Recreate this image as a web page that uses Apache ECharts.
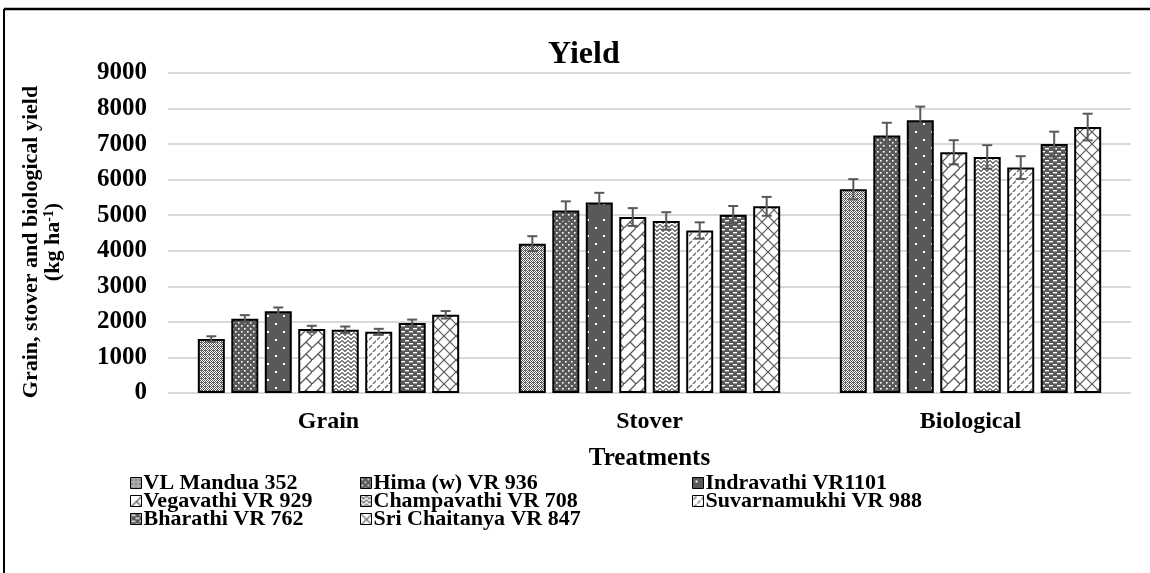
<!DOCTYPE html>
<html><head><meta charset="utf-8">
<script src="https://cdn.jsdelivr.net/npm/echarts@6/dist/echarts.min.js"></script>
<style>html,body{margin:0;padding:0;background:#fff}#c{width:1150px;height:573px}</style>
</head><body><div id="c"></div>
<script>
const categories = ['Grain', 'Stover', 'Biological'];
const varieties = ['VL Mandua 352', 'Hima (w) VR 936', 'Indravathi VR1101', 'Vegavathi VR 929', 'Champavathi VR 708', 'Suvarnamukhi VR 988', 'Bharathi VR 762', 'Sri Chaitanya VR 847'];
const grain = [1520, 2090, 2300, 1800, 1780, 1720, 1970, 2200];
const stover = [4200, 5130, 5360, 4950, 4840, 4570, 5010, 5250];
const biological = [5730, 7240, 7670, 6770, 6640, 6340, 7000, 7480];
const grainErr = [75, 100, 105, 90, 90, 85, 95, 105];
const stoverErr = [210, 260, 270, 250, 245, 230, 250, 265];
const biologicalErr = [285, 360, 385, 340, 330, 320, 350, 375];
const yTicks = [0, 1000, 2000, 3000, 4000, 5000, 6000, 7000, 8000, 9000];

const FONT = 'Liberation Serif';
const DARK = '#595959';
const BW = 27, GAP = 0.24;

function pat(w, h, bg, draw) {
  const cv = document.createElement('canvas');
  cv.width = w; cv.height = h;
  const g = cv.getContext('2d');
  g.fillStyle = bg; g.fillRect(0, 0, w, h);
  draw(g);
  return { image: cv, repeat: 'repeat' };
}
const patterns = [
  pat(4, 4, '#ffffff', g => { g.fillStyle = '#555'; for (let y = 0; y < 4; y++) for (let x = 0; x < 4; x++) if ((x + y) % 2 === 0) g.fillRect(x, y, 1, 1); g.fillStyle = '#777'; g.fillRect(1, 2, 1, 1); }),
  pat(6, 6, DARK, g => { g.fillStyle = '#fff'; g.fillRect(1, 1, 1.6, 1.6); g.fillRect(4, 4, 1.6, 1.6); }),
  pat(16, 16, DARK, g => { g.fillStyle = '#fff'; g.fillRect(3, 3, 2, 2); g.fillRect(11, 11, 2, 2); }),
  pat(12, 12, '#fff', g => { g.strokeStyle = DARK; g.lineWidth = 1.3; g.beginPath(); g.moveTo(-1, 13); g.lineTo(13, -1); g.moveTo(6, 6); g.lineTo(12, 12); g.stroke(); }),
  pat(6, 4, '#fff', g => { g.strokeStyle = DARK; g.lineWidth = 1.1; g.beginPath(); g.moveTo(0, 0.5); g.lineTo(3, 3.5); g.lineTo(6, 0.5); g.stroke(); }),
  pat(8, 8, '#fff', g => { g.strokeStyle = DARK; g.lineWidth = 1.1; g.beginPath(); g.moveTo(1, 4); g.lineTo(4, 1); g.moveTo(5, 8); g.lineTo(8, 5); g.stroke(); }),
  pat(8, 6, DARK, g => { g.fillStyle = '#fff'; g.fillRect(1, 1, 4, 1.4); g.fillRect(5, 4, 4, 1.4); g.fillRect(-3, 4, 4, 1.4); }),
  pat(12, 12, '#fff', g => { g.strokeStyle = DARK; g.lineWidth = 1.2; g.beginPath(); g.moveTo(-1, -1); g.lineTo(13, 13); g.moveTo(-1, 13); g.lineTo(13, -1); g.stroke(); })
];

const cols = [grain, stover, biological];
const errs = [grainErr, stoverErr, biologicalErr];

const barSeries = varieties.map((name, i) => ({
  name, type: 'bar', barWidth: BW, barGap: (GAP * 100) + '%',
  data: cols.map(c => c[i]),
  itemStyle: { color: patterns[i], borderColor: '#000', borderWidth: 2 },
  z: 2
}));

const errData = [];
varieties.forEach((n, i) => cols.forEach((c, k) => errData.push([k, c[i], errs[k][i], i])));

const errSeries = {
  type: 'custom', z: 5, silent: true,
  encode: { x: 0, y: 1 },
  data: errData,
  renderItem: (params, api) => {
    const cat = api.value(0), v = api.value(1), e = api.value(2), si = api.value(3);
    const n = varieties.length;
    const step = BW * (1 + GAP);
    const total = n * BW + (n - 1) * BW * GAP;
    const off = -total / 2 + BW / 2 + si * step;
    const hi = api.coord([cat, v + e]);
    const lo = api.coord([cat, v - e]);
    const x = hi[0] + off;
    const st = { stroke: '#595959', lineWidth: 2 };
    return { type: 'group', children: [
      { type: 'line', shape: { x1: x, y1: hi[1], x2: x, y2: lo[1] }, style: st },
      { type: 'line', shape: { x1: x - 5, y1: hi[1], x2: x + 5, y2: hi[1] }, style: st },
      { type: 'line', shape: { x1: x - 5, y1: lo[1], x2: x + 5, y2: lo[1] }, style: st }
    ]};
  }
};

const legendCols = [[0, 3, 6], [1, 4, 7], [2, 5]];
const legendLeft = [125, 355, 687];
const legends = legendCols.map((idx, j) => ({
  orient: 'vertical', left: legendLeft[j], top: 467, itemGap: -4,
  itemWidth: 11, itemHeight: 11, icon: 'rect',
  itemStyle: { borderColor: '#000', borderWidth: 1 },
  data: idx.map(i => varieties[i]),
  textStyle: { fontFamily: FONT, fontWeight: 'bold', fontSize: 22, color: '#000', lineHeight: 18, padding: [0, 0, 0, -3] },
  selectedMode: false
}));

const chart = echarts.init(document.getElementById('c'), null, { renderer: 'canvas' });
chart.setOption({
  animation: false,
  backgroundColor: '#fff',
  title: { text: 'Yield', left: 543, top: 34, textStyle: { fontFamily: FONT, fontWeight: 'bold', fontSize: 32, color: '#000' } },
  legend: legends,
  grid: { left: 168, right: 19, top: 73, bottom: 180 },
  xAxis: {
    type: 'category', data: categories,
    name: 'Treatments', nameLocation: 'middle', nameGap: 53,
    nameTextStyle: { fontFamily: FONT, fontWeight: 'bold', fontSize: 25, color: '#000' },
    axisLine: { show: false }, axisTick: { show: false },
    axisLabel: { fontFamily: FONT, fontWeight: 'bold', fontSize: 24, color: '#000', margin: 17 }
  },
  yAxis: {
    type: 'value', min: yTicks[0], max: yTicks[yTicks.length - 1], interval: 1000,
    name: '{a|Grain, stover and biological yield}\n{a|(kg ha}{s|-1}{a|)}',
    nameLocation: 'middle', nameGap: 104, nameRotate: 90,
    nameTextStyle: {
      padding: [0, 18, 0, 0],
      rich: {
        a: { fontFamily: FONT, fontWeight: 'bold', fontSize: 22, color: '#000', lineHeight: 22 },
        s: { fontFamily: FONT, fontWeight: 'bold', fontSize: 14, color: '#000', lineHeight: 22, verticalAlign: 'top', padding: [0, 0, 7, 0] }
      }
    },
    axisLine: { show: false }, axisTick: { show: false },
    axisLabel: { fontFamily: FONT, fontWeight: 'bold', fontSize: 25, color: '#000', margin: 21, formatter: v => String(v) },
    splitLine: { lineStyle: { color: '#d9d9d9', width: 2 } }
  },
  graphic: [
    { type: 'line', shape: { x1: 4, y1: 9, x2: 1150, y2: 9 }, style: { stroke: '#000', lineWidth: 2.5 } },
    { type: 'line', shape: { x1: 4, y1: 9, x2: 4, y2: 573 }, style: { stroke: '#000', lineWidth: 2 } }
  ],
  series: [...barSeries, errSeries]
});
</script></body></html>
